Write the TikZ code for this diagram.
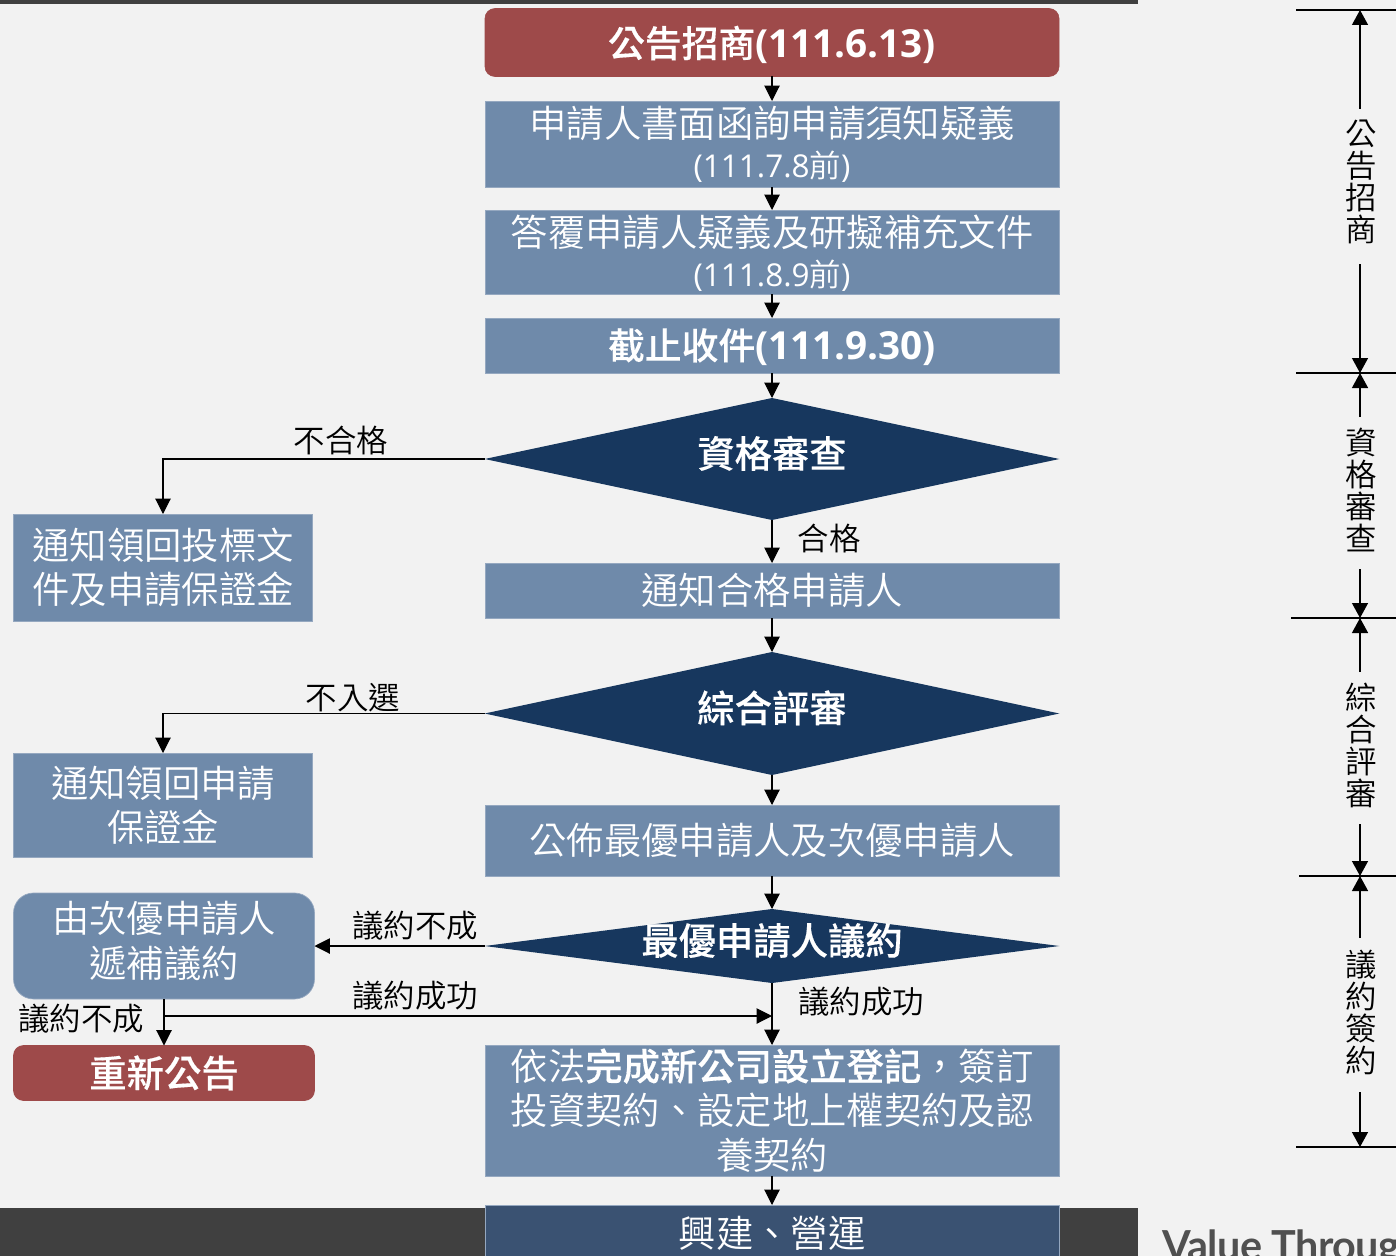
\documentclass[tikz,border=0pt]{standalone}
\usepackage{fontspec}
\setmainfont{Noto Sans CJK TC DemiLight}[BoldFont={Noto Sans CJK TC Medium},BoldFeatures={FakeBold=0.3}]
\newfontfamily\latinf{Open Sans}
\newfontfamily\logof{Lato}[LetterSpace=-1.5]
\usetikzlibrary{arrows.meta,shapes.geometric}
\definecolor{pagebg}{HTML}{F2F2F2}
\definecolor{darkbar}{HTML}{404040}
\definecolor{stepblue}{HTML}{6F8AAA}
\definecolor{stepedge}{HTML}{95A8C0}
\definecolor{stepred}{HTML}{9E4A4A}
\definecolor{decnavy}{HTML}{17375E}
\definecolor{lastblue}{HTML}{3A5272}
\definecolor{logogrey}{HTML}{505050}
\newcommand{\dectext}[1]{\smash{\makebox[0pt]{\raisebox{-6.5pt}{#1}}}}
\newcommand{\nudge}[2]{\raisebox{#1}[\height][\depth]{#2}}
\newcommand{\sidetext}[4]{\hspace*{1.5pt}#1\\\hspace*{1.5pt}#2\\\hspace*{1.5pt}#3\\\hspace*{1.5pt}#4\rule[-5.25pt]{0pt}{0pt}}
\tikzset{
  bigfont/.style={font=\fontsize{28pt}{33.4pt}\selectfont},
  flowbox/.style={rectangle,draw=stepedge,line width=.5pt,fill=stepblue,text=white,inner sep=0pt,outer sep=0pt,align=center,bigfont},
  redbox/.style={flowbox,draw=stepred,fill=stepred,rounded corners=7.5pt,font=\fontsize{28pt}{33.4pt}\selectfont\bfseries},
  decbox/.style={diamond,draw=none,fill=decnavy,text=white,inner sep=0pt,outer sep=0pt,aspect=4.7,minimum width=431pt,font=\fontsize{28pt}{33.4pt}\selectfont\bfseries},
  lab/.style={inner sep=0pt,outer sep=0pt,text=black,font=\fontsize{23.6pt}{24pt}\selectfont},
  sidelab/.style={lab,align=center,minimum width=40pt},
  flow/.style={draw=black,line width=.8pt,-{Triangle[length=11.5pt,width=11.5pt]}},
  span/.style={draw=black,line width=1pt,-{Triangle[length=11.25pt,width=12pt]}},
  tick/.style={draw=black,line width=1pt}
}
\begin{document}
\begin{tikzpicture}[x=0.75pt,y=-0.75pt]
\useasboundingbox (0,0) rectangle (1396,1256);
\fill[pagebg] (0,0) rectangle (1396,1256);
\fill[darkbar] (0,0) rectangle (1138,4);
\fill[darkbar] (0,1208) rectangle (1138,1256);
% flow nodes
\node[redbox,minimum width=430.5pt,minimum height=51pt] (n1) at (772,42.5) {\nudge{-1.5pt}{\fontsize{27.6pt}{33pt}\selectfont 公告招商{\latinf\fontsize{29pt}{33pt}\selectfont (111.6.13)}}};
\node[flowbox,minimum width=430.5pt,minimum height=64.5pt] (n2) at (772,144) {\nudge{-1.5pt}{申請人書面函詢申請須知疑義}\\[-1pt]\nudge{.75pt}{\fontsize{23.6pt}{28pt}\selectfont\latinf (111.7.8{\rmfamily 前})}};
\node[flowbox,minimum width=430.5pt,minimum height=63pt] (n3) at (772,252) {\nudge{-2.25pt}{答覆申請人疑義及研擬補充文件}\\[-1pt]\nudge{0pt}{\fontsize{23.6pt}{28pt}\selectfont\latinf (111.8.9{\rmfamily 前})}};
\node[flowbox,minimum width=430.5pt,minimum height=41.25pt,font=\fontsize{27.6pt}{33pt}\selectfont\bfseries] (n4) at (772,345.5) {\nudge{-1pt}{截止收件{\latinf\fontsize{29pt}{33pt}\selectfont (111.9.30)}}};
\node[decbox,minimum height=91.5pt] (d1) at (772,459) {\dectext{資格審查}};
\node[flowbox,minimum width=430.5pt,minimum height=41.25pt] (n5) at (772,590.5) {通知合格申請人};
\node[decbox,minimum height=92.25pt] (d2) at (772,713.5) {\dectext{綜合評審}};
\node[flowbox,minimum width=430.5pt,minimum height=53.25pt] (n6) at (772,840.5) {公佈最優申請人及次優申請人};
\node[decbox,minimum height=55.5pt] (d3) at (772,946) {\dectext{最優申請人議約}};
\node[flowbox,minimum width=430.5pt,minimum height=98.25pt] (n7) at (772,1110.5) {依法{\bfseries 完成新公司設立登記}，簽訂\\投資契約、設定地上權契約及認\\養契約};
\node[flowbox,draw=stepedge,fill=lastblue,minimum width=430.5pt,minimum height=43.5pt] (n8) at (772,1234) {\nudge{.75pt}{興建、營運}};
% left nodes
\node[flowbox,minimum width=224.25pt,minimum height=80.25pt] (a1) at (163,567.5) {通知領回投標文\\件及申請保證金};
\node[flowbox,minimum width=224.25pt,minimum height=78pt] (a2) at (163,805) {通知領回申請\\保證金};
\node[flowbox,rounded corners=15pt,minimum width=225.75pt,minimum height=79.5pt] (a3) at (164,946) {\nudge{4.25pt}{由次優申請人}\\\nudge{3.25pt}{遞補議約}};
\node[redbox,minimum width=225.75pt,minimum height=41.25pt] (a4) at (164,1073) {重新公告};
% branch points
\coordinate (jl) at (164,1016);
\coordinate (jr) at (772,1016);
% connectors
\draw[flow] (n1) -- (n2);
\draw[flow] (n2) -- (n3);
\draw[flow] (n3) -- (n4);
\draw[flow] (n4) -- (d1);
\draw[flow] (d1) -- (n5);
\draw[flow] (n5) -- (d2);
\draw[flow] (d2) -- (n6);
\draw[flow] (n6) -- (d3);
\draw[flow] (d3) -- (n7);
\draw[flow] (n7) -- (n8);
\draw[flow] (d1.west) -| (a1.north);
\draw[flow] (d2.west) -| (a2.north);
\draw[flow] (d3.west) -- (a3.east);
\draw[flow] (a3) -- (a4);
\draw[flow] (jl) -- (jr);
% labels
\node[lab] (l1) at (341,441) {不合格};
\node[lab] (l2) at (829,538.5) {合格};
\node[lab] (l3) at (353,698) {不入選};
\node[lab] (l4) at (415,926) {議約不成};
\node[lab] (l5) at (415,996) {議約成功};
\node[lab] (l6) at (861,1002) {議約成功};
\node[lab] (l7) at (81,1019) {議約不成};
% side scale
\coordinate (t1) at (1360,10);
\coordinate (t2) at (1360,373);
\coordinate (t3) at (1360,618);
\coordinate (t4) at (1360,876);
\coordinate (t5) at (1360,1147);
\draw[tick] (1296,10) -- (1396,10);
\draw[tick] (1296,373) -- (1396,373);
\draw[tick] (1291,618) -- (1396,618);
\draw[tick] (1299,876) -- (1396,876);
\draw[tick] (1296,1147) -- (1396,1147);
\node[sidelab,minimum height=116.25pt] (s1) at (1360,186.5) {\sidetext{公}{告}{招}{商\rule[-8.25pt]{0pt}{0pt}}};
\node[sidelab,minimum height=114pt] (s2) at (1360,493) {\sidetext{資}{格}{審}{查}};
\node[sidelab,minimum height=114pt] (s3) at (1360,748) {\sidetext{綜}{合}{評}{審}};
\node[sidelab,minimum height=115.5pt] (s4) at (1360,1015) {\sidetext{議}{約}{簽}{約}};
\draw[span] (s1.north) -- (t1);
\draw[span] (s1.south) -- (t2);
\draw[span] (s2.north) -- (t2);
\draw[span] (s2.south) -- (t3);
\draw[span] (s3.north) -- (t3);
\draw[span] (s3.south) -- (t4);
\draw[span] (s4.north) -- (t4);
\draw[span] (s4.south) -- (t5);
% logo text
\node[anchor=base west,inner sep=0pt,text=logogrey,font=\fontsize{31pt}{33pt}\selectfont\logof\bfseries] (logo) at (1162,1260) {Value Through};
\end{tikzpicture}
\end{document}
